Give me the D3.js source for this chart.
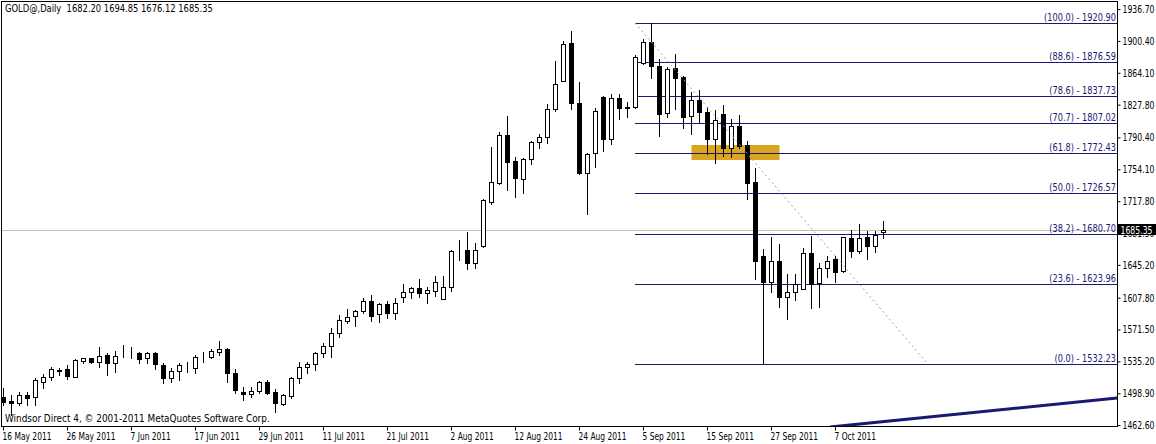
<!DOCTYPE html>
<html><head><meta charset="utf-8">
<script src="https://cdn.jsdelivr.net/npm/d3@7"></script>
<style>
body{margin:0;background:#fff}
svg{display:block}
text{font-family:"DejaVu Sans",sans-serif;font-size:10.5px}
</style>
</head><body>
<svg id="c" width="1156" height="444"></svg>
<script>
// ---- data ----
const firstDay = "2011-05-16", lastDay = "2011-10-17";
const opens  = [1494.6,1490.4,1487.8,1496.9,1494.6,1511.7,1517.4,1524.4,1526.5,1517.4,1535.6,1539.1,1534.5,1542.5,1533.4,1544.6,1545.0,1544.8,1539.1,1544.8,1531.1,1516.3,1524.2,1531.3,1527.7,1541.0,1540.2,1545.9,1549.3,1522.0,1500.3,1498.0,1501.5,1511.7,1500.3,1486.6,1495.8,1516.3,1528.8,1532.2,1544.8,1552.8,1567.6,1581.2,1586.9,1592.6,1604.0,1589.2,1600.6,1590.4,1608.6,1614.3,1618.9,1613.2,1615.4,1606.3,1620.0,1660.5,1662.2,1647.4,1666.7,1716.9,1738.5,1793.2,1763.6,1743.1,1765.9,1785.3,1791.0,1822.9,1854.8,1898.1,1829.7,1749.9,1772.7,1836.6,1788.7,1835.4,1824.5,1825.1,1875.3,1899.2,1871.9,1818.3,1869.6,1859.4,1814.9,1833.1,1819.5,1788.7,1817.2,1778.4,1803.5,1781.9,1739.7,1655.3,1625.7,1649.6,1608.6,1614.3,1617.7,1658.8,1624.6,1641.7,1651.9,1638.2,1675.9,1661.0,1677.0,1666.7,1682.20];
const highs  = [1504.9,1496.9,1500.3,1500.3,1516.3,1520.8,1528.8,1527.7,1531.1,1537.9,1539.4,1539.6,1551.6,1544.8,1547.1,1553.9,1551.6,1545.9,1545.9,1545.9,1533.4,1527.7,1533.4,1534.5,1542.5,1545.9,1549.3,1558.5,1550.0,1526.5,1506.0,1506.0,1512.9,1514.0,1503.7,1497.5,1517.4,1534.5,1534.5,1545.9,1556.2,1573.3,1588.1,1594.9,1593.8,1607.5,1610.9,1601.8,1604.0,1607.5,1623.4,1620.0,1629.1,1620.0,1632.5,1632.5,1662.2,1673.6,1682.7,1670.2,1720.3,1779.6,1796.7,1814.9,1768.2,1766.5,1786.4,1794.4,1828.6,1877.6,1900.4,1911.8,1853.7,1772.2,1824.0,1837.7,1840.0,1840.0,1830.9,1884.4,1902.7,1920.9,1879.9,1870.8,1885.6,1860.5,1842.3,1844.5,1825.2,1821.7,1827.4,1811.5,1816.0,1786.4,1755.6,1663.3,1677.0,1669.0,1634.8,1634.8,1664.4,1678.1,1647.4,1655.3,1655.3,1677.5,1685.0,1691.8,1683.8,1683.8,1694.85];
const lows   = [1485.5,1474.0,1485.5,1485.5,1485.5,1504.9,1514.0,1519.7,1515.1,1517.4,1533.4,1533.4,1528.8,1519.7,1523.1,1540.2,1539.1,1533.4,1533.4,1526.5,1510.6,1511.7,1514.0,1523.1,1522.0,1534.5,1539.1,1542.5,1511.7,1499.2,1491.2,1494.6,1499.2,1498.0,1477.5,1485.5,1493.5,1510.6,1522.0,1525.4,1540.2,1540.2,1563.0,1579.0,1575.5,1590.4,1581.2,1580.1,1584.7,1583.5,1602.9,1607.5,1608.6,1601.8,1609.7,1606.3,1615.4,1650.8,1640.5,1641.7,1665.6,1714.6,1737.4,1730.6,1722.6,1727.1,1760.2,1778.4,1784.1,1820.6,1854.8,1822.9,1748.8,1703.2,1756.8,1775.0,1783.0,1811.5,1813.8,1824.0,1874.2,1858.2,1792.1,1813.8,1822.9,1801.2,1794.4,1806.9,1771.6,1761.3,1769.3,1768.2,1778.4,1720.3,1629.1,1532.23,1614.3,1597.2,1583.5,1605.2,1617.7,1596.1,1597.2,1631.4,1625.7,1637.1,1654.2,1658.8,1651.9,1659.9,1676.12];
const closes = [1488.9,1488.1,1496.9,1493.5,1514.0,1517.4,1526.5,1524.9,1518.6,1536.8,1539.1,1534.5,1541.4,1533.4,1541.4,1544.9,1544.6,1537.9,1544.8,1532.2,1516.3,1524.2,1531.1,1531.0,1540.2,1541.6,1547.1,1549.3,1522.0,1502.6,1498.0,1501.5,1511.7,1499.2,1487.8,1496.9,1516.3,1528.8,1532.2,1544.8,1552.8,1567.6,1582.4,1585.8,1592.6,1604.0,1586.9,1600.6,1590.4,1601.8,1614.3,1618.9,1613.2,1616.6,1625.7,1620.0,1661.0,1661.2,1647.4,1662.2,1719.2,1739.7,1793.2,1762.5,1744.2,1765.9,1785.3,1791.0,1822.9,1851.4,1897.0,1829.7,1749.9,1771.6,1820.6,1788.7,1835.4,1824.0,1825.0,1882.2,1899.2,1871.9,1817.2,1868.5,1858.2,1813.8,1833.1,1819.5,1788.7,1810.3,1778.4,1803.5,1780.7,1738.5,1649.6,1625.7,1649.6,1608.6,1614.3,1623.4,1658.8,1623.4,1641.7,1649.6,1637.1,1677.0,1661.0,1675.9,1666.7,1679.3,1685.35];

const tickDates = ["2011-05-16","2011-05-26","2011-06-07","2011-06-17","2011-06-29","2011-07-11","2011-07-21","2011-08-02","2011-08-12","2011-08-24","2011-09-05","2011-09-15","2011-09-27","2011-10-07"];
const priceTicks = [1936.70,1900.40,1864.10,1827.80,1790.40,1754.10,1717.80,1681.50,1645.20,1607.80,1571.50,1535.20,1498.90,1462.60];

const fibLevels = [100.0,88.6,78.6,70.7,61.8,50.0,38.2,23.6,0.0];
const fibPrices = [1920.90,1876.59,1837.73,1807.02,1772.43,1726.57,1680.70,1623.96,1532.23];
const fibAnchorIdx = [78.94, 115.56];
const fibAnchorPrice = [1920.90, 1532.23];

const zoneIdx = [86, 97];
const zonePrice = [1781.8, 1764.8];

const trendIdx = [103.3, 139.2];
const trendPrice = [1460.4, 1493.5];

const titleText = "GOLD@,Daily  1682.20 1694.85 1676.12 1685.35";
const footText = "Windsor Direct 4, \u00A9 2001-2011 MetaQuotes Software Corp.";
const lastPrice = 1685.35;

// ---- derived categories ----
const parse = d3.timeParse("%Y-%m-%d");
const fmtKey = d3.timeFormat("%Y-%m-%d");
const dates = d3.timeDay.range(parse(firstDay), d3.timeDay.offset(parse(lastDay),1))
  .filter(d => d.getDay() !== 0 && d.getDay() !== 6).map(fmtKey);

const bars = dates.map((d,i)=>({d, i, o:opens[i], h:highs[i], l:lows[i], c:closes[i]}));

// ---- layout ----
const W = 1156, H = 444;
const plot = {l:1.5, t:1.5, r:1117.5, b:426.5};
const svg = d3.select("#c");

const x = d3.scaleLinear().domain([0, 110]).range([3.5, 883.5]);
const y = d3.scaleLinear().domain([1462.6, 1936.7]).range([425.1, 9.1]);
const xd = d => x(dates.indexOf(d));
const ry = v => Math.round(y(v)) + 0.5;

svg.append("rect").attr("width",W).attr("height",H).attr("fill","#fff");

const defs = svg.append("defs");
defs.append("clipPath").attr("id","clip").append("rect")
  .attr("x",plot.l).attr("y",plot.t).attr("width",plot.r-plot.l).attr("height",plot.b-plot.t);

const g = svg.append("g").attr("clip-path","url(#clip)");

// zone rectangle (background)
g.append("rect")
  .attr("x", Math.round(x(zoneIdx[0]))-0.5)
  .attr("width", Math.round(x(zoneIdx[1]) - x(zoneIdx[0])))
  .attr("y", Math.round(y(zonePrice[0])))
  .attr("height", Math.round(y(zonePrice[1]) - y(zonePrice[0])))
  .attr("fill","#DAA520");

// current price line
g.append("line").attr("x1",plot.l).attr("x2",plot.r)
  .attr("y1",ry(lastPrice)).attr("y2",ry(lastPrice))
  .attr("stroke","#C0C0C0").attr("stroke-width",1);

// fib ray lines
const fibX0 = Math.round(x(fibAnchorIdx[0]));
g.selectAll("line.fib").data(fibPrices).join("line").attr("class","fib")
  .attr("x1",fibX0).attr("x2",plot.r)
  .attr("y1",d=>ry(d)).attr("y2",d=>ry(d))
  .attr("stroke","#191970").attr("stroke-width",1);

// candles: wicks
g.selectAll("line.wick").data(bars).join("line").attr("class","wick")
  .attr("x1",b=>x(b.i)).attr("x2",b=>x(b.i))
  .attr("y1",b=>Math.round(y(b.h))).attr("y2",b=>Math.round(y(b.l))+1)
  .attr("stroke","#000").attr("stroke-width",1);

// candles: bodies
g.selectAll("rect.body").data(bars).join("rect").attr("class","body")
  .attr("x",b=>x(b.i)-2)
  .attr("width",4)
  .attr("y",b=>ry(Math.max(b.o,b.c)))
  .attr("height",b=>Math.max(0, ry(Math.min(b.o,b.c)) - ry(Math.max(b.o,b.c))))
  .attr("fill",b=>b.c>=b.o ? "#fff" : "#000")
  .attr("stroke","#000").attr("stroke-width",1);

// fib dotted trend line
g.append("line")
  .attr("x1",x(fibAnchorIdx[0])).attr("y1",y(fibAnchorPrice[0]))
  .attr("x2",x(fibAnchorIdx[1])).attr("y2",y(fibAnchorPrice[1]))
  .attr("stroke","#A0A0A0").attr("stroke-width",1).attr("stroke-dasharray","2,3");

// fib labels
const fibLbl = g.selectAll("text.fibl").data(fibPrices).join("text").attr("class","fibl")
  .attr("x",plot.r-1.5).attr("y",d=>Math.round(y(d))-2)
  .attr("text-anchor","end").attr("fill","#191970")
  .text((d,i)=>"(" + fibLevels[i].toFixed(1) + ") - " + d.toFixed(2));

// thick trend line
g.append("line")
  .attr("x1",x(trendIdx[0])).attr("y1",y(trendPrice[0]))
  .attr("x2",x(trendIdx[1])).attr("y2",y(trendPrice[1]))
  .attr("stroke","#191970").attr("stroke-width",3);

// frame
svg.append("rect").attr("x",plot.l).attr("y",plot.t)
  .attr("width",plot.r-plot.l).attr("height",plot.b-plot.t)
  .attr("fill","none").attr("stroke","#000").attr("stroke-width",1);

// right axis
const yAxis = d3.axisRight(y).tickValues(priceTicks).tickSize(3).tickPadding(2)
  .tickFormat(d3.format(".2f"));
const ya = svg.append("g").attr("transform",`translate(${plot.r},0)`).call(yAxis);
ya.select(".domain").remove();
ya.selectAll("text").attr("font-size",null).attr("font-family",null).attr("fill","#000");
ya.selectAll("line").attr("stroke","#000");

// bottom axis
const xa = svg.append("g").attr("transform",`translate(0,${plot.b})`);
const tk = xa.selectAll("g.t").data(tickDates).join("g").attr("class","t")
  .attr("transform",d=>`translate(${xd(d)},0)`);
tk.append("line").attr("y1",0).attr("y2",4).attr("stroke","#000");
const fmtLbl = d3.timeFormat("%-d %b %Y");
const dateLbl = tk.append("text").attr("x",-1).attr("y",13.5).attr("fill","#000")
  .text(d=>fmtLbl(parse(d)));

// current price box
const lp = svg.append("g").attr("transform",`translate(${plot.r},${Math.round(y(lastPrice))})`);
lp.append("rect").attr("x",0.5).attr("y",-6).attr("width",W-plot.r).attr("height",11).attr("fill","#000");
const lpText = lp.append("text").attr("x",3).attr("y",0).attr("dy","0.35em").attr("fill","#fff").text(lastPrice.toFixed(2));

// title & footer
const title = svg.append("text").attr("x",5).attr("y",12).attr("fill","#000")
  .style("white-space","pre").text(titleText);
const foot = svg.append("text").attr("x",5).attr("y",422).attr("fill","#000").text(footText);

// condense each text group horizontally (about its anchor point) to the widths
// of the original's narrow bitmap font
function condense(sel, refWidth){
  const nodes = sel.nodes();
  const k = refWidth / nodes[0].getComputedTextLength();
  nodes.forEach(n => {
    const tx = +(n.getAttribute("x") || 0), ty = +(n.getAttribute("y") || 0);
    n.setAttribute("x", 0); n.setAttribute("y", 0);
    n.setAttribute("transform", `translate(${tx},${ty}) scale(${k.toFixed(4)},1)`);
  });
}
condense(title, 208);
condense(foot, 265);
condense(dateLbl, 49);               // "16 May 2011"
condense(ya.selectAll("text"), 32);  // "1936.70"
condense(lpText, 32);
condense(fibLbl, 72);                // "(100.0) - 1920.90"
</script>
</body></html>
